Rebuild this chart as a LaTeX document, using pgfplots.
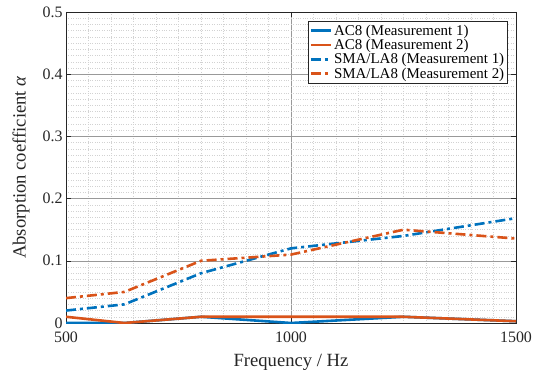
\documentclass[border=0pt]{standalone}
\usepackage{fontspec}
\setmainfont{Liberation Serif}
\usepackage{pgfplots}
\pgfplotsset{compat=1.18}
\definecolor{mblue}{rgb}{0,0.447,0.741}
\definecolor{morange}{rgb}{0.85,0.325,0.098}
\definecolor{axgray}{rgb}{0.15,0.15,0.15}
\begin{document}
\begin{tikzpicture}
\path[use as bounding box] (-66bp,-49bp) rectangle (474bp,323bp);
\begin{axis}[
  scale only axis,
  width=450bp, height=311bp,
  xmin=500, xmax=1500, ymin=0, ymax=0.5,
  xtick={500,1000,1500},
  ytick={0,0.1,0.2,0.3,0.4,0.5},
  minor x tick num=9,
  minor y tick num=9,
  minor tick length=0pt,
  major tick length=5bp,
  tick align=inside,
  tick style={axgray, line width=0.6bp},
  axis line style={axgray, line width=0.8bp},
  grid=both,
  major grid style={gray!80, line width=0.5bp},
  minor grid style={gray!35, dotted, line width=0.5bp},
  /pgf/number format/assume math mode=true,
  /pgf/number format/fixed,
  /pgf/number format/precision=1,
  /pgf/number format/set thousands separator={},
  scaled ticks=false,
  xticklabel style={font=\fontsize{16}{18}\selectfont, text=axgray, yshift=-5bp},
  yticklabel style={font=\fontsize{16}{18}\selectfont, text=axgray},
  xlabel={Frequency / Hz},
  ylabel={Absorption coefficient \textit{α}},
  label style={font=\fontsize{18.7}{20}\selectfont, text=axgray},
  xlabel style={yshift=-5bp},
  ylabel style={yshift=6bp},
  legend style={at={(1,1)}, anchor=north east, xshift=-8bp, yshift=-9bp,
    font=\fontsize{15}{16}\selectfont, draw=axgray, line width=0.6bp,
    inner sep=1.5bp, row sep=-1.5bp, cells={anchor=west}},
  legend image code/.code={\draw[#1, line width=2.6bp] (0bp,0bp) -- (20bp,0bp);},
  clip=true,
]
\addplot[mblue, line width=2.6bp] coordinates {
(500,0.0) (630,0.0) (800,0.01) (1000,0.0) (1250,0.01) (1600,0.0)};
\addlegendentry{AC8 (Measurement 1)}
\addplot[morange, line width=2.6bp] coordinates {
(500,0.01) (630,0.0) (800,0.01) (1000,0.01) (1250,0.01) (1600,0.0)};
\addlegendentry{AC8 (Measurement 2)}
\addplot[mblue, line width=2.6bp, dash pattern=on 10bp off 4bp on 3bp off 4bp] coordinates {
(500,0.02) (630,0.03) (800,0.08) (1000,0.12) (1250,0.14) (1600,0.18)};
\addlegendentry{SMA/LA8 (Measurement 1)}
\addplot[morange, line width=2.6bp, dash pattern=on 10bp off 4bp on 3bp off 4bp] coordinates {
(500,0.04) (630,0.05) (800,0.10) (1000,0.11) (1250,0.15) (1600,0.13)};
\addlegendentry{SMA/LA8 (Measurement 2)}
\end{axis}
\end{tikzpicture}
\end{document}
